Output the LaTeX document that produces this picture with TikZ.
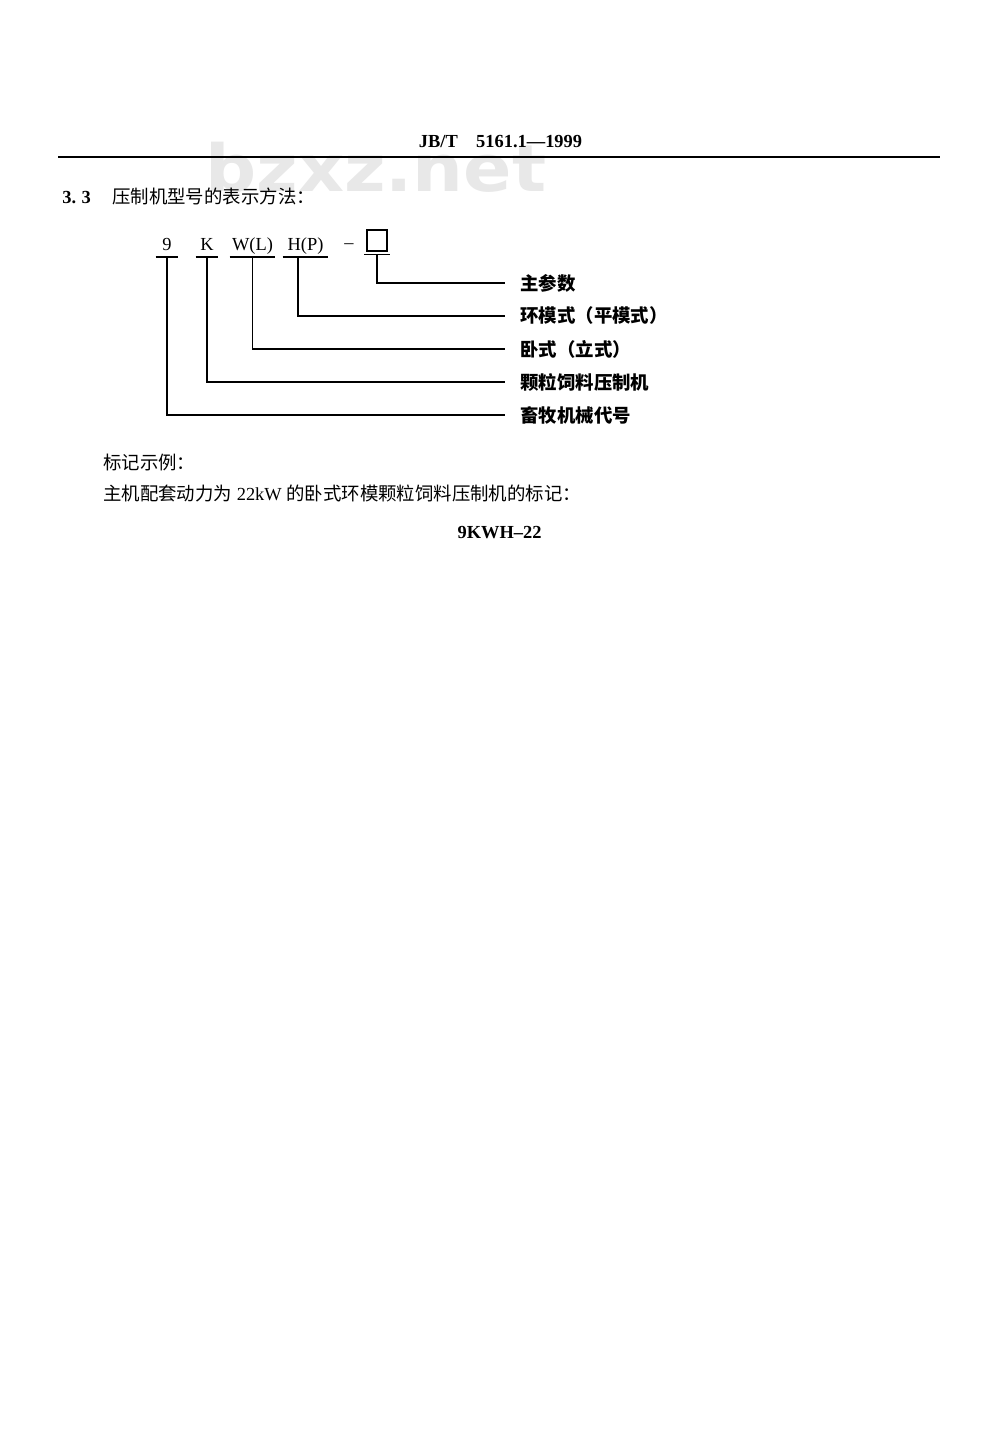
\documentclass[tikz,border=0pt]{standalone}
\usepackage{fontspec}
\setmainfont{Liberation Serif}
\newfontfamily\cjk{Noto Sans CJK SC}
\newfontfamily\markfont{DejaVu Sans}
\begin{document}
\begin{tikzpicture}[x=0.021cm, y=-0.021cm,
	codeText/.style={inner sep=0pt, anchor=base, font=\fontsize{11}{13}\selectfont},
	bodyText/.style={inner sep=0pt, anchor=base west, font=\fontsize{11}{13}\selectfont},
	labelText/.style={inner xsep=0.315cm, inner ysep=0pt, anchor=west, font=\fontsize{11}{13}\selectfont\cjk\bfseries},
	leadLine/.style={line width=0.9pt}]
	\fill[white] (0,0) rectangle (1000,1434);
	\useasboundingbox (0,0) rectangle (1000,1434);
	\node[inner sep=0pt, anchor=base west, text=black!9](siteMark) at (205,192){\scalebox{1.1}[1]{\markfont\bfseries\fontsize{38.8}{40}\selectfont bzxz.net}};
	\node[codeText, font=\fontsize{11}{13}\selectfont\bfseries](headerCode) at (500.5,148){JB/T\hspace{1em}5161.1—1999};
	\coordinate (ruleLeft) at (58,157);
	\coordinate (ruleRight) at (940,157);
	\draw[line width=1.2pt] (ruleLeft) -- (ruleRight);
	\node[bodyText, font=\fontsize{11}{13}\selectfont\bfseries](clauseNum) at (62,203.5){3.\hspace{0.3em}3};
	\node[bodyText](clauseTitle) at (112,203.5){\cjk 压制机型号的表示方法：};
	\node[codeText, minimum width=0.462cm](nineCode) at (167,251){9};
	\node[codeText, minimum width=0.462cm](kCode) at (207,251){K};
	\node[codeText, minimum width=0.945cm](wlCode) at (252.5,251){W(L)};
	\node[codeText, minimum width=0.945cm](hpCode) at (305.5,251){H(P)};
	\node[inner sep=0pt, font=\fontsize{11}{13}\selectfont](dashMark) at (349,246){–};
	\node[rectangle, draw, leadLine, minimum width=0.42cm, minimum height=0.44cm, inner sep=0pt](paramBox) at (377,240.5){};
	\node[labelText](paramLabel) at (505,283){主参数};
	\node[labelText](ringLabel) at (505,316){环模式（平模式）};
	\node[labelText](lieLabel) at (505,349){卧式（立式）};
	\node[labelText](pelletLabel) at (505,382){颗粒饲料压制机};
	\node[labelText](stockLabel) at (505,415){畜牧机械代号};
	\draw[leadLine] ([yshift=-0.126cm]nineCode.base west) -- ([yshift=-0.126cm]nineCode.base east);
	\draw[leadLine] ([yshift=-0.126cm]kCode.base west) -- ([yshift=-0.126cm]kCode.base east);
	\draw[leadLine] ([yshift=-0.126cm]wlCode.base west) -- ([yshift=-0.126cm]wlCode.base east);
	\draw[leadLine] ([yshift=-0.126cm]hpCode.base west) -- ([yshift=-0.126cm]hpCode.base east);
	\draw[leadLine] ([xshift=-0.04cm, yshift=-0.063cm]paramBox.south west) -- ([xshift=0.04cm, yshift=-0.063cm]paramBox.south east);
	\draw[leadLine] ([yshift=-0.063cm]paramBox.south) |- (paramLabel.west);
	\draw[leadLine] ([xshift=-0.158cm, yshift=-0.126cm]hpCode.base) |- (ringLabel.west);
	\draw[leadLine] ([yshift=-0.126cm]wlCode.base) |- (lieLabel.west);
	\draw[leadLine] ([yshift=-0.126cm]kCode.base) |- (pelletLabel.west);
	\draw[leadLine] ([yshift=-0.126cm]nineCode.base) |- (stockLabel.west);
	\node[bodyText](exampleHead) at (103,469){\cjk 标记示例：};
	\node[bodyText](exampleLine) at (103,500){{\cjk 主机配套动力为} 22kW {\cjk 的卧式环模颗粒饲料压制机的标记：}};
	\node[codeText, font=\fontsize{11}{13}\selectfont\bfseries](exampleCode) at (499.5,538){9KWH–22};
\end{tikzpicture}
\end{document}
